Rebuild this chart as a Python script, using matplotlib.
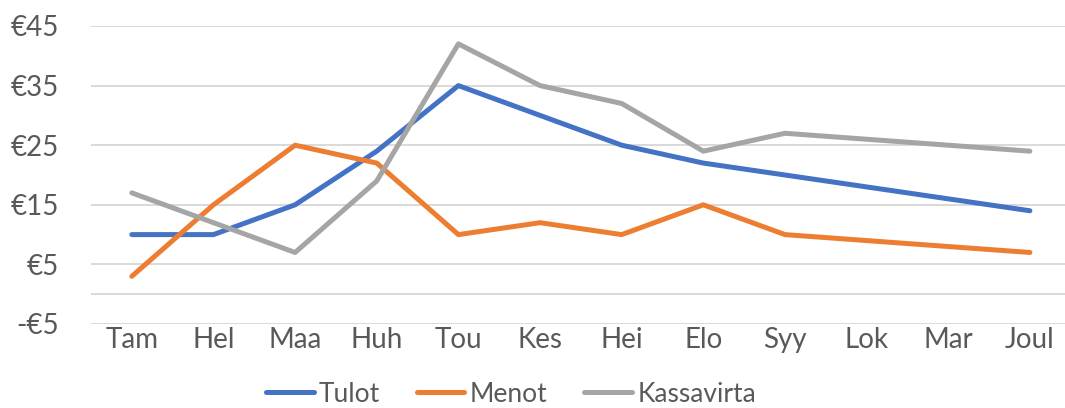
import matplotlib
matplotlib.use("Agg")
import matplotlib.pyplot as plt
from matplotlib.ticker import FuncFormatter

months = ["Tam", "Hel", "Maa", "Huh", "Tou", "Kes", "Hei", "Elo", "Syy", "Lok", "Mar", "Joul"]
tulot = [10, 10, 15, 24, 35, 30, 25, 22, 20, 18, 16, 14]
menot = [3, 15, 25, 22, 10, 12, 10, 15, 10, 9, 8, 7]
kassavirta = [17, 12, 7, 19, 42, 35, 32, 24, 27, 26, 25, 24]
y_ticks = [-5, 5, 15, 25, 35, 45]

plt.rcParams["font.family"] = ["Lato", "DejaVu Sans"]
text_color = "#595959"
grid_color = "#D9D9D9"

fig = plt.figure(figsize=(10.65, 4.08), dpi=100)
ax = fig.add_axes([91 / 1065, 1 - 324 / 408, 1 - 91 / 1065, (324 - 26) / 408])

x = list(range(len(months)))
series = [
    ("Tulot", tulot, "#4472C4"),
    ("Menot", menot, "#ED7D31"),
    ("Kassavirta", kassavirta, "#A5A5A5"),
]
for name, values, color in series:
    ax.plot(x, values, color=color, lw=3.6, label=name,
            solid_capstyle="round", solid_joinstyle="round", zorder=3)

for y in y_ticks + [0]:
    ax.axhline(y, color=grid_color, lw=1.4, zorder=1)

ax.set_xlim(-0.5, 11.43)
ax.set_ylim(-5, 45)
ax.set_xticks(x)
ax.set_xticklabels(months)
ax.set_yticks(y_ticks)
ax.yaxis.set_major_formatter(FuncFormatter(lambda v, p: f"-€{abs(int(v))}" if v < 0 else f"€{int(v)}"))
ax.tick_params(length=0, labelsize=20, labelcolor=text_color)
ax.tick_params(axis="x", pad=2)
ax.tick_params(axis="y", pad=23)
for s in ax.spines.values():
    s.set_visible(False)

fig.legend(loc="center", bbox_to_anchor=(511 / 1065, 1 - 394 / 408), ncol=3,
           frameon=False, fontsize=19, labelcolor=text_color,
           handlelength=1.8, handletextpad=0.2, columnspacing=1.4,
           borderpad=0.2)

fig.savefig("out.png", dpi=100)
